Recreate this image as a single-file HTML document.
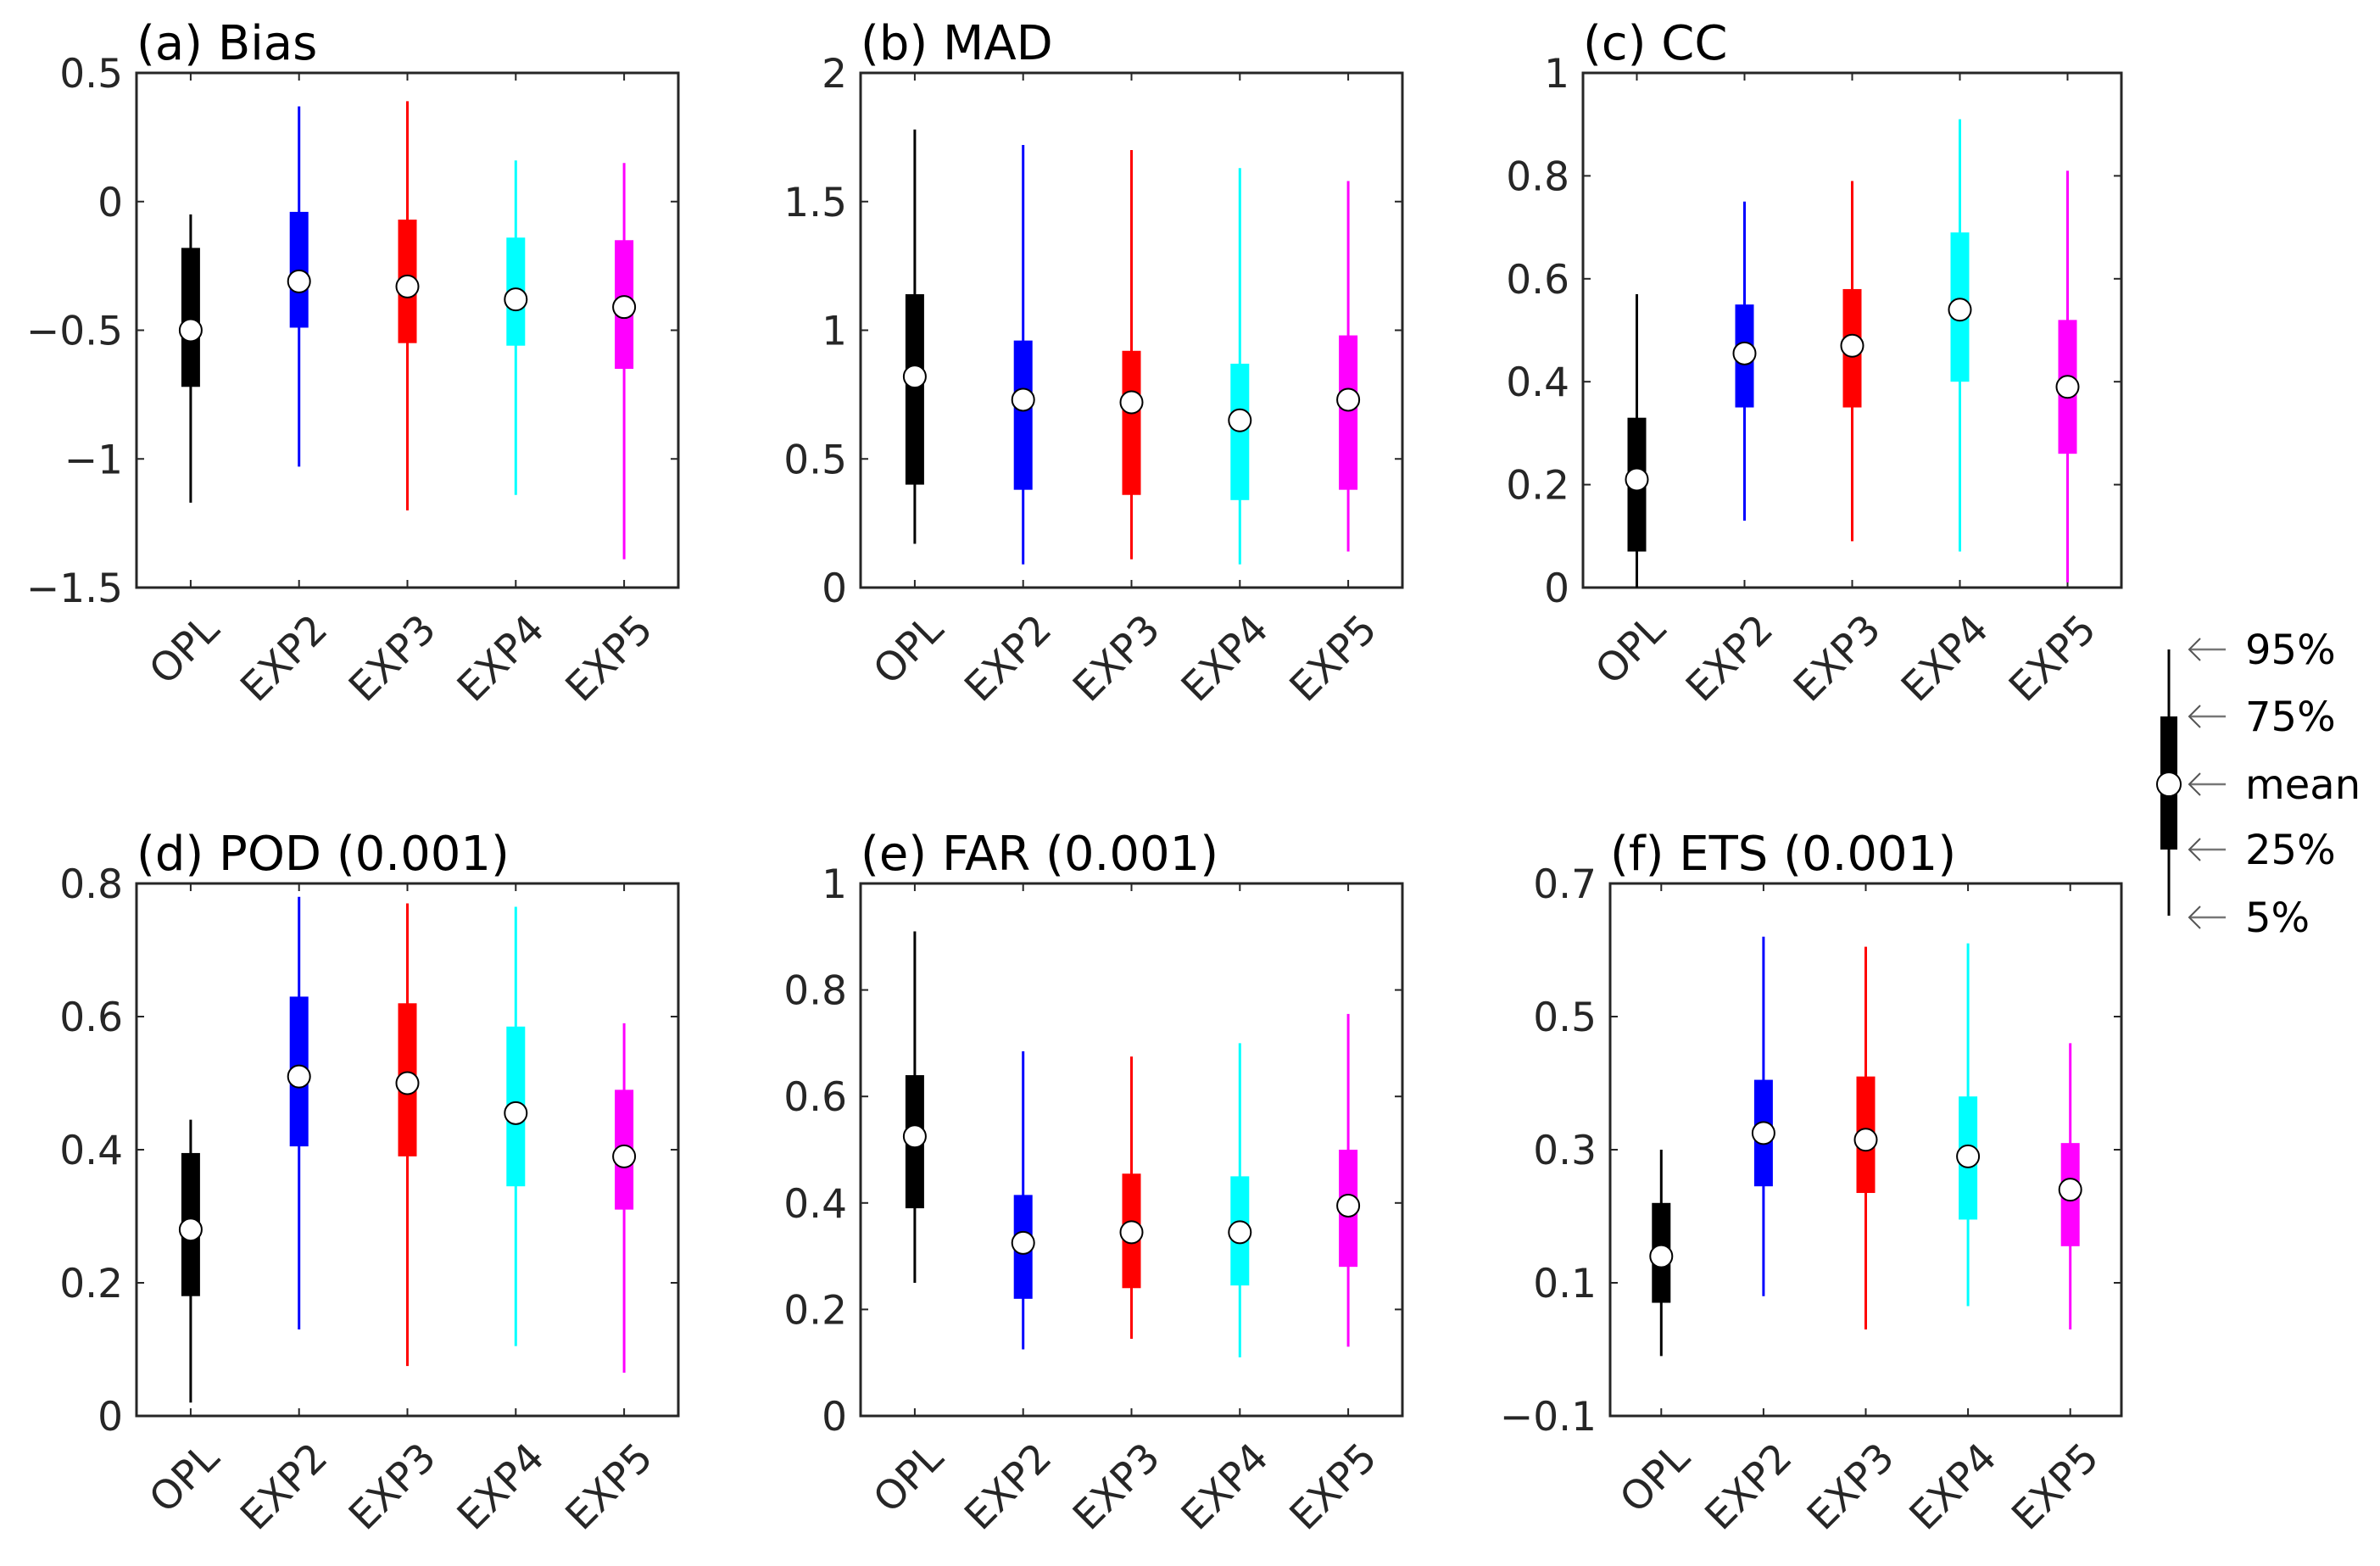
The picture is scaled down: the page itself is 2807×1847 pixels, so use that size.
<!DOCTYPE html>
<html><head><meta charset="utf-8"><style>
body{margin:0;background:#fff;}
svg{display:block;font-family:"DejaVu Sans","Liberation Sans",sans-serif;}
</style></head><body>
<svg id="fig" width="2807" height="1847" viewBox="0 0 2807 1847" xmlns="http://www.w3.org/2000/svg"></svg>
<script>
const categories = ["OPL","EXP2","EXP3","EXP4","EXP5"];
const colors = ["#000000","#0000ff","#ff0000","#00ffff","#ff00ff"];
// each series: [p5, p25, mean, p75, p95] per category
const biasVals = [[-1.17,-0.72,-0.5,-0.18,-0.05],[-1.03,-0.49,-0.31,-0.04,0.37],[-1.2,-0.55,-0.33,-0.07,0.39],[-1.14,-0.56,-0.38,-0.14,0.16],[-1.39,-0.65,-0.41,-0.15,0.15]];
const madVals = [[0.17,0.4,0.82,1.14,1.78],[0.09,0.38,0.73,0.96,1.72],[0.11,0.36,0.72,0.92,1.70],[0.09,0.34,0.65,0.87,1.63],[0.14,0.38,0.73,0.98,1.58]];
const ccVals = [[0.0,0.07,0.21,0.33,0.57],[0.13,0.35,0.455,0.55,0.75],[0.09,0.35,0.47,0.58,0.79],[0.07,0.40,0.54,0.69,0.91],[0.01,0.26,0.39,0.52,0.81]];
const podVals = [[0.02,0.18,0.28,0.395,0.445],[0.13,0.405,0.51,0.63,0.78],[0.075,0.39,0.50,0.62,0.77],[0.105,0.345,0.455,0.585,0.765],[0.065,0.31,0.39,0.49,0.59]];
const farVals = [[0.25,0.39,0.525,0.64,0.91],[0.125,0.22,0.325,0.415,0.685],[0.145,0.24,0.345,0.455,0.675],[0.11,0.245,0.345,0.45,0.70],[0.13,0.28,0.395,0.50,0.755]];
const etsVals = [[-0.01,0.07,0.14,0.22,0.30],[0.08,0.245,0.325,0.405,0.62],[0.03,0.235,0.315,0.41,0.605],[0.065,0.195,0.29,0.38,0.61],[0.03,0.155,0.24,0.31,0.46]];
const biasTicks = [-1.5,-1,-0.5,0,0.5], biasLabels = ["\u22121.5","\u22121","\u22120.5","0","0.5"];
const madTicks = [0,0.5,1,1.5,2], madLabels = ["0","0.5","1","1.5","2"];
const ccTicks = [0,0.2,0.4,0.6,0.8,1], ccLabels = ["0","0.2","0.4","0.6","0.8","1"];
const podTicks = [0,0.2,0.4,0.6,0.8], podLabels = ["0","0.2","0.4","0.6","0.8"];
const farTicks = [0,0.2,0.4,0.6,0.8,1], farLabels = ["0","0.2","0.4","0.6","0.8","1"];
const etsTicks = [-0.1,0.1,0.3,0.5,0.7], etsLabels = ["\u22120.1","0.1","0.3","0.5","0.7"];

const NS="http://www.w3.org/2000/svg";
const svg=document.getElementById('fig');
function mk(tag,attrs,parent){const e=document.createElementNS(NS,tag);for(const k in attrs)e.setAttribute(k,attrs[k]);(parent||svg).appendChild(e);return e;}

const panels=[
 {id:'a',title:'(a) Bias',vals:biasVals,ticks:biasTicks,labels:biasLabels,L:161,R:800,T:86,B:693},
 {id:'b',title:'(b) MAD',vals:madVals,ticks:madTicks,labels:madLabels,L:1015,R:1654,T:86,B:693},
 {id:'c',title:'(c) CC',vals:ccVals,ticks:ccTicks,labels:ccLabels,L:1867,R:2502,T:86,B:693},
 {id:'d',title:'(d) POD (0.001)',vals:podVals,ticks:podTicks,labels:podLabels,L:161,R:800,T:1042,B:1670},
 {id:'e',title:'(e) FAR (0.001)',vals:farVals,ticks:farTicks,labels:farLabels,L:1015,R:1654,T:1042,B:1670},
 {id:'f',title:'(f) ETS (0.001)',vals:etsVals,ticks:etsTicks,labels:etsLabels,L:1899,R:2502,T:1042,B:1670}
];

panels.forEach(p=>{
  const g=mk('g',{});
  
  
  const y0=p.ticks[0], y1=p.ticks[p.ticks.length-1];
  const ys=v=>p.B-(v-y0)/(y1-y0)*(p.B-p.T);
  const xs=i=>p.L+(i+0.5)/categories.length*(p.R-p.L);
  const fr=mk('rect',{x:p.L,y:p.T,width:p.R-p.L,height:p.B-p.T,fill:'none',stroke:'#262626','stroke-width':3},g);
  
  
  p.ticks.forEach((t,k)=>{
    const y=ys(t);
    mk('line',{x1:p.L,x2:p.L+9,y1:y,y2:y,stroke:'#262626','stroke-width':2},g);
    mk('line',{x1:p.R-9,x2:p.R,y1:y,y2:y,stroke:'#262626','stroke-width':2},g);
    const tx=mk('text',{x:p.L-16,y:y+17,'text-anchor':'end','font-size':47,fill:'#262626'},g);
    tx.textContent=p.labels[k];
    
    
  });
  categories.forEach((c,i)=>{
    const x=xs(i);
    mk('line',{x1:x,x2:x,y1:p.B,y2:p.B-9,stroke:'#262626','stroke-width':2},g);
    mk('line',{x1:x,x2:x,y1:p.T,y2:p.T+9,stroke:'#262626','stroke-width':2},g);
    const tx=mk('text',{x:0,y:0,'text-anchor':'end','font-size':47,fill:'#262626',transform:`translate(${x+36},${p.B+52}) rotate(-45)`},g);
    tx.textContent=c;
    
    
    const v=p.vals[i];
    const wh=mk('line',{x1:x,x2:x,y1:ys(v[0]),y2:ys(v[4]),stroke:colors[i],'stroke-width':3},g);
    
    
    const bx=mk('rect',{x:x-11,y:ys(v[3]),width:22,height:ys(v[1])-ys(v[3]),fill:colors[i]},g);
    
    
    const mc=mk('circle',{cx:x,cy:ys(v[2]),r:13,fill:'#fff',stroke:'#000','stroke-width':2},g);
    
    
  });
  const tt=mk('text',{x:p.L,y:p.T-16,'font-size':56,fill:'#000'},g);
  tt.textContent=p.title;
  
  
});

// legend
const lg=mk('g',{});


mk('line',{x1:2558,x2:2558,y1:766,y2:1080,stroke:'#000','stroke-width':3},lg);
mk('rect',{x:2548,y:845,width:20,height:157,fill:'#000'},lg);
mk('circle',{cx:2558,cy:925,r:14,fill:'#fff',stroke:'#000','stroke-width':2},lg);
const legLabels=["95%","75%","mean","25%","5%"];
const legY=[766,845,925,1002,1082];
legLabels.forEach((t,k)=>{
  const y=legY[k];
  mk('line',{x1:2582,x2:2625,y1:y,y2:y,stroke:'#777','stroke-width':2.5},lg);
  mk('polyline',{points:`${2595},${y-13} ${2582},${y} ${2595},${y+13}`,fill:'none',stroke:'#555','stroke-width':2},lg);
  const tx=mk('text',{x:2648,y:y+17,'font-size':48,fill:'#000'},lg);
  tx.textContent=t;
  
  
});
</script>
</body></html>
